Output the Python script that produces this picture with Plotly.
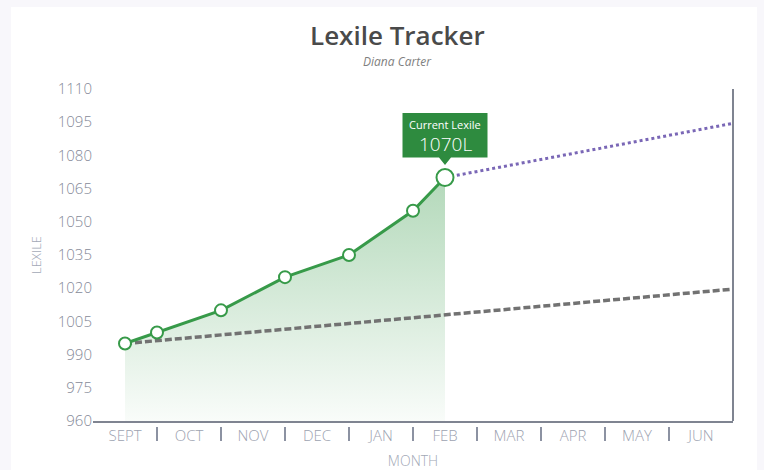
import plotly.graph_objects as go

# ---- data ----
months = ["SEPT", "OCT", "NOV", "DEC", "JAN", "FEB", "MAR", "APR", "MAY", "JUN"]
month_pos = list(range(len(months)))
progress_x = [0, 0.5, 1.5, 2.5, 3.5, 4.5, 5]
progress_y = [995, 1000, 1010, 1025, 1035, 1055, 1070]
goal_x = [0, 9.5]
goal_y = [995, 1019.6]
projection_x = [5, 9.5]
projection_y = [1070, 1094.5]
y_ticks = list(range(960, 1111, 15))
separators = [i + 0.5 for i in range(len(months) - 1)]
current_x = progress_x[-1]
current_y = progress_y[-1]
current_label = f"{current_y}L"

GREEN = "#379a49"
BOX_GREEN = "#2e8b3f"
FONT = "Open Sans"
PLOT_H = 470 - 89 - 49

fig = go.Figure()

# gradient area under progress line
fig.add_trace(go.Scatter(
    x=progress_x, y=progress_y, mode="none", fill="tozeroy",
    fillgradient=dict(type="vertical",
                      colorscale=[[0, "rgba(55,154,73,0.03)"], [1, "rgba(55,154,73,0.38)"]],
                      start=960, stop=current_y),
    hoverinfo="skip", showlegend=False))

# goal line (gray dashed)
fig.add_trace(go.Scatter(
    x=goal_x, y=goal_y, mode="lines",
    line=dict(color="#727272", width=3.5, dash="7px,3px"),
    hoverinfo="skip", showlegend=False))

# projection (purple dotted)
fig.add_trace(go.Scatter(
    x=projection_x, y=projection_y, mode="lines",
    line=dict(color="#7a67b6", width=3, dash="dot"),
    hoverinfo="skip", showlegend=False))

# progress line
sizes = [12] * (len(progress_x) - 1) + [17]
fig.add_trace(go.Scatter(
    x=progress_x, y=progress_y, mode="lines+markers",
    line=dict(color=GREEN, width=3),
    marker=dict(size=sizes, color="#ffffff", opacity=1, line=dict(color=GREEN, width=2)),
    hoverinfo="skip", showlegend=False))

shapes = []
# white card
shapes.append(dict(type="rect", xref="paper", yref="paper",
                   x0=-0.128, x1=1.0375, y0=-0.3, y1=1.247,
                   fillcolor="white", line=dict(width=0), layer="below"))
# right border line
shapes.append(dict(type="line", xref="paper", yref="paper", x0=1, x1=1, y0=0, y1=1,
                   line=dict(color="#7f8491", width=2)))
# category separators
for s in separators:
    shapes.append(dict(type="line", xref="x", yref="paper", x0=s, x1=s,
                       y0=-6 / PLOT_H, y1=-20 / PLOT_H,
                       line=dict(color="#8c92a2", width=2)))
# tooltip box with pointer
shapes.append(dict(type="path", xref="x", yref="y",
                   xsizemode="pixel", ysizemode="pixel",
                   xanchor=current_x, yanchor=current_y,
                   path="M -42.5,20 L -6,20 L 0,12.5 L 6,20 L 42.5,20 L 42.5,64.5 L -42.5,64.5 Z",
                   fillcolor=BOX_GREEN, line=dict(width=0)))

annotations = [
    dict(xref="paper", yref="paper", x=0.475, y=1.1627, xanchor="center", yanchor="middle",
         text="Lexile Tracker", showarrow=False,
         font=dict(family=FONT, size=26, color="#4a4a4a", weight=600)),
    dict(xref="paper", yref="paper", x=0.475, y=1.0843, xanchor="center", yanchor="middle",
         text="Diana Carter", showarrow=False,
         font=dict(family=FONT, size=12, color="#7f7f7f", style="italic")),
    dict(xref="x", yref="y", x=current_x, y=current_y, yshift=53.4,
         xanchor="center", yanchor="middle", showarrow=False,
         text="Current Lexile",
         font=dict(family=FONT, size=11, color="white")),
    dict(xref="x", yref="y", x=current_x, y=current_y, yshift=33.4,
         xanchor="center", yanchor="middle", showarrow=False,
         text=current_label,
         font=dict(family=FONT, size=19, color="white", weight=300)),
]

fig.update_layout(
    width=764, height=470,
    margin=dict(l=93, r=31, t=89, b=49),
    paper_bgcolor="#f8f7fb",
    plot_bgcolor="rgba(0,0,0,0)",
    font=dict(family=FONT),
    hovermode=False,
    shapes=shapes,
    annotations=annotations,
    xaxis=dict(range=[-0.5, 9.5], tickvals=month_pos, ticktext=months, automargin=False,
               showgrid=False, zeroline=False, showline=True,
               linecolor="#7f8491", linewidth=2, ticks="", ticklabelstandoff=0,
               tickfont=dict(family=FONT, size=15, color="#9ca2b0", weight=300),
               title=dict(text="MONTH", standoff=18,
                          font=dict(family=FONT, size=14, color="#a2a8b6", weight=300))),
    yaxis=dict(range=[960, 1110], tickvals=y_ticks, automargin=False,
               showgrid=False, zeroline=False, showline=False, ticks="",
               tickfont=dict(family=FONT, size=15, color="#858a98", weight=300),
               title=dict(text="LEXILE", standoff=13,
                          font=dict(family=FONT, size=13, color="#a2a8b6", weight=300))),
)

fig.write_html("out.html", config={"displayModeBar": False},
               post_script="document.body.style.margin='0px';")
